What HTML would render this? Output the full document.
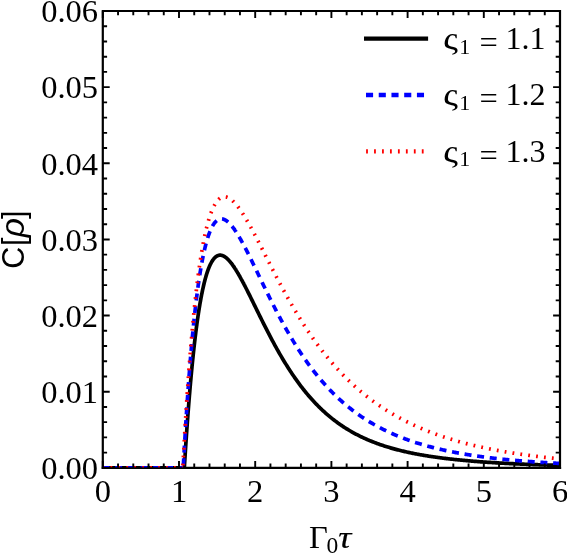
<!DOCTYPE html>
<html><head><meta charset="utf-8"><style>
html,body{margin:0;padding:0;background:#fff}
svg{display:block;will-change:transform}
text{font-family:"Liberation Serif",serif;font-size:32.5px;fill:#000}
</style></head><body>
<svg width="567" height="554" viewBox="0 0 567 554">
<rect width="567" height="554" fill="#fff"/>
<defs><clipPath id="c"><rect x="102.8" y="11.0" width="457.2" height="456.3"/></clipPath></defs>
<path d="M101.7 467.85 H561.1" stroke="#000" stroke-width="2.2" fill="none"/>
<g clip-path="url(#c)" fill="none" stroke-linejoin="round">
<path d="M102.8 467.85 H184.33" stroke="#000" stroke-width="3.7"/><path d="M184.33 467.85 L184.50 465.00 L184.68 462.17 L184.85 459.37 L185.03 456.61 L185.20 453.87 L185.37 451.15 L185.55 448.47 L185.72 445.81 L185.90 443.18 L186.07 440.57 L186.25 438.00 L186.42 435.45 L186.60 432.92 L186.77 430.42 L186.95 427.95 L187.12 425.51 L187.30 423.08 L187.47 420.69 L187.65 418.32 L187.82 415.97 L187.99 413.65 L188.17 411.35 L188.34 409.08 L188.52 406.83 L188.69 404.61 L188.87 402.41 L189.04 400.23 L189.22 398.08 L189.39 395.95 L189.57 393.84 L189.74 391.76 L189.92 389.69 L190.09 387.66 L190.27 385.64 L190.44 383.64 L190.61 381.67 L190.79 379.72 L190.96 377.79 L191.14 375.88 L191.31 373.99 L191.49 372.13 L191.66 370.28 L191.84 368.46 L192.01 366.65 L192.19 364.87 L192.36 363.11 L192.54 361.37 L192.71 359.64 L192.89 357.94 L193.06 356.26 L193.23 354.59 L193.41 352.95 L193.58 351.32 L193.76 349.71 L193.93 348.13 L194.11 346.56 L194.28 345.01 L194.46 343.47 L194.63 341.96 L194.81 340.46 L194.98 338.98 L195.16 337.52 L195.33 336.08 L195.51 334.66 L195.68 333.25 L195.85 331.86 L196.03 330.48 L196.20 329.13 L196.38 327.79 L196.55 326.47 L196.73 325.16 L196.90 323.87 L197.08 322.59 L197.25 321.34 L197.43 320.10 L197.60 318.87 L197.78 317.66 L197.95 316.46 L198.13 315.29 L198.30 314.12 L198.47 312.97 L198.65 311.84 L198.82 310.72 L199.00 309.62 L199.17 308.53 L199.35 307.45 L199.52 306.39 L199.70 305.35 L199.87 304.32 L200.05 303.30 L200.22 302.30 L200.40 301.31 L200.57 300.33 L200.75 299.37 L200.92 298.42 L201.09 297.49 L201.27 296.56 L201.44 295.66 L201.62 294.76 L201.79 293.88 L201.97 293.01 L202.14 292.15 L202.32 291.31 L202.49 290.48 L202.67 289.66 L202.84 288.85 L203.02 288.05 L203.19 287.27 L203.37 286.50 L203.54 285.74 L203.72 285.00 L203.89 284.26 L204.06 283.54 L204.24 282.82 L204.41 282.12 L204.59 281.43 L204.76 280.76 L204.94 280.09 L205.11 279.43 L205.29 278.79 L205.46 278.15 L205.64 277.53 L205.81 276.92 L205.99 276.31 L206.16 275.72 L206.34 275.14 L206.51 274.57 L206.68 274.01 L206.86 273.46 L207.03 272.92 L207.21 272.38 L207.38 271.86 L207.56 271.35 L207.73 270.85 L207.91 270.36 L208.08 269.87 L208.26 269.40 L208.43 268.94 L208.61 268.48 L208.78 268.03 L208.96 267.60 L209.13 267.17 L209.30 266.75 L209.48 266.34 L209.65 265.94 L209.83 265.55 L210.00 265.16 L210.18 264.79 L210.35 264.42 L210.53 264.06 L210.70 263.71 L210.88 263.37 L211.05 263.03 L211.23 262.71 L211.40 262.39 L211.58 262.08 L211.75 261.78 L211.92 261.48 L212.10 261.19 L212.27 260.91 L212.45 260.64 L212.62 260.38 L212.80 260.12 L212.97 259.87 L213.15 259.63 L213.32 259.39 L213.50 259.17 L213.67 258.94 L213.85 258.73 L214.02 258.52 L214.20 258.32 L214.37 258.13 L214.54 257.94 L214.72 257.76 L214.89 257.59 L215.07 257.42 L215.24 257.26 L215.42 257.11 L215.59 256.96 L215.77 256.82 L215.94 256.69 L216.12 256.56 L216.29 256.43 L216.47 256.32 L216.64 256.21 L216.82 256.10 L216.99 256.00 L217.16 255.91 L217.34 255.82 L217.51 255.74 L217.69 255.67 L217.86 255.60 L218.04 255.53 L218.21 255.47 L218.39 255.42 L218.56 255.37 L218.74 255.33 L218.91 255.29 L219.09 255.26 L219.26 255.23 L219.44 255.21 L219.61 255.19 L219.78 255.18 L219.96 255.17 L220.13 255.17 L220.31 255.17 L220.48 255.18 L220.66 255.19 L220.83 255.21 L221.01 255.23 L221.18 255.26 L221.36 255.29 L221.53 255.32 L221.71 255.36 L221.88 255.41 L222.06 255.46 L222.23 255.51 L222.40 255.57 L222.58 255.63 L222.75 255.70 L222.93 255.77 L223.10 255.84 L223.28 255.92 L223.45 256.00 L223.63 256.09 L223.80 256.18 L223.98 256.27 L224.15 256.37 L224.33 256.47 L224.50 256.58 L224.68 256.69 L224.85 256.80 L225.02 256.92 L225.20 257.04 L225.37 257.16 L225.55 257.29 L225.72 257.42 L225.90 257.55 L226.07 257.69 L226.25 257.83 L226.42 257.98 L226.60 258.13 L226.77 258.28 L226.95 258.43 L227.12 258.59 L227.30 258.75 L227.47 258.92 L227.64 259.08 L227.82 259.25 L227.99 259.43 L228.17 259.60 L228.34 259.78 L228.52 259.96 L228.69 260.15 L228.87 260.34 L229.04 260.53 L229.22 260.72 L229.39 260.92 L229.57 261.12 L229.74 261.32 L229.92 261.52 L230.09 261.73 L230.26 261.94 L230.44 262.15 L230.61 262.37 L230.79 262.58 L230.96 262.80 L231.14 263.02 L231.31 263.25 L231.49 263.48 L231.66 263.70 L231.84 263.94 L232.01 264.17 L232.19 264.41 L232.36 264.64 L232.54 264.89 L232.71 265.13 L232.89 265.37 L233.06 265.62 L233.23 265.87 L233.41 266.12 L233.58 266.37 L233.76 266.63 L233.93 266.89 L234.11 267.14 L234.28 267.41 L234.46 267.67 L234.63 267.93 L234.81 268.20 L234.98 268.47 L235.16 268.74 L235.33 269.01 L235.51 269.28 L235.68 269.56 L235.85 269.84 L236.03 270.12 L236.20 270.40 L236.38 270.68 L236.55 270.96 L236.73 271.25 L236.90 271.54 L237.08 271.82 L237.25 272.11 L237.43 272.41 L237.60 272.70 L237.78 272.99 L237.95 273.29 L238.13 273.59 L238.30 273.89 L238.47 274.19 L238.65 274.49 L238.82 274.79 L239.00 275.10 L239.17 275.40 L239.35 275.71 L239.52 276.02 L239.70 276.32 L239.87 276.63 L240.05 276.95 L240.22 277.26 L240.40 277.57 L240.57 277.89 L240.75 278.20 L240.92 278.52 L241.09 278.84 L241.27 279.16 L241.44 279.48 L241.62 279.80 L241.79 280.12 L241.97 280.45 L242.14 280.77 L242.32 281.10 L242.49 281.42 L242.67 281.75 L242.84 282.08 L243.02 282.41 L243.19 282.74 L243.37 283.07 L243.54 283.40 L243.71 283.73 L243.89 284.06 L244.06 284.40 L244.24 284.73 L244.41 285.07 L244.59 285.40 L244.76 285.74 L244.94 286.08 L245.11 286.41 L245.29 286.75 L246.19 288.51 L247.09 290.29 L247.99 292.07 L248.89 293.87 L249.80 295.68 L250.70 297.50 L251.60 299.33 L252.50 301.16 L253.40 302.99 L254.30 304.83 L255.21 306.66 L256.11 308.50 L257.01 310.34 L257.91 312.17 L258.81 314.00 L259.71 315.83 L260.62 317.65 L261.52 319.47 L262.42 321.28 L263.32 323.08 L264.22 324.87 L265.13 326.65 L266.03 328.43 L266.93 330.19 L267.83 331.94 L268.73 333.69 L269.63 335.42 L270.54 337.13 L271.44 338.84 L272.34 340.53 L273.24 342.21 L274.14 343.87 L275.04 345.52 L275.95 347.16 L276.85 348.78 L277.75 350.39 L278.65 351.98 L279.55 353.55 L280.46 355.11 L281.36 356.66 L282.26 358.19 L283.16 359.70 L284.06 361.19 L284.96 362.67 L285.87 364.14 L286.77 365.58 L287.67 367.02 L288.57 368.43 L289.47 369.83 L290.37 371.21 L291.28 372.58 L292.18 373.92 L293.08 375.26 L293.98 376.57 L294.88 377.87 L295.79 379.16 L296.69 380.42 L297.59 381.67 L298.49 382.91 L299.39 384.13 L300.29 385.33 L301.20 386.52 L302.10 387.69 L303.00 388.85 L303.90 389.99 L304.80 391.11 L305.70 392.22 L306.61 393.32 L307.51 394.40 L308.41 395.46 L309.31 396.51 L310.21 397.54 L311.11 398.56 L312.02 399.57 L312.92 400.56 L313.82 401.54 L314.72 402.50 L315.62 403.45 L316.53 404.39 L317.43 405.31 L318.33 406.22 L319.23 407.12 L320.13 408.00 L321.03 408.87 L321.94 409.73 L322.84 410.57 L323.74 411.40 L324.64 412.22 L325.54 413.03 L326.44 413.82 L327.35 414.61 L328.25 415.38 L329.15 416.14 L330.05 416.89 L330.95 417.62 L331.86 418.35 L332.76 419.07 L333.66 419.77 L334.56 420.46 L335.46 421.15 L336.36 421.82 L337.27 422.48 L338.17 423.13 L339.07 423.77 L339.97 424.41 L340.87 425.03 L341.77 425.64 L342.68 426.25 L343.58 426.84 L344.48 427.43 L345.38 428.00 L346.28 428.57 L347.19 429.13 L348.09 429.68 L348.99 430.22 L349.89 430.75 L350.79 431.28 L351.69 431.79 L352.60 432.30 L353.50 432.80 L354.40 433.29 L355.30 433.78 L356.20 434.26 L357.10 434.73 L358.01 435.19 L358.91 435.65 L359.81 436.09 L360.71 436.54 L361.61 436.97 L362.52 437.40 L363.42 437.82 L364.32 438.24 L365.22 438.64 L366.12 439.05 L367.02 439.44 L367.93 439.83 L368.83 440.22 L369.73 440.59 L370.63 440.97 L371.53 441.33 L372.43 441.69 L373.34 442.05 L374.24 442.40 L375.14 442.74 L376.04 443.08 L376.94 443.42 L377.84 443.75 L378.75 444.07 L379.65 444.39 L380.55 444.70 L381.45 445.01 L382.35 445.31 L383.26 445.61 L384.16 445.91 L385.06 446.20 L385.96 446.49 L386.86 446.77 L387.76 447.05 L388.67 447.32 L389.57 447.59 L390.47 447.85 L391.37 448.11 L392.27 448.37 L393.17 448.63 L394.08 448.88 L394.98 449.12 L395.88 449.36 L396.78 449.60 L397.68 449.84 L398.59 450.07 L399.49 450.30 L400.39 450.52 L401.29 450.74 L402.19 450.96 L403.09 451.17 L404.00 451.39 L404.90 451.59 L405.80 451.80 L406.70 452.00 L407.60 452.20 L408.50 452.40 L409.41 452.59 L410.31 452.78 L411.21 452.97 L412.11 453.16 L413.01 453.34 L413.92 453.52 L414.82 453.70 L415.72 453.87 L416.62 454.04 L417.52 454.21 L418.42 454.38 L419.33 454.55 L420.23 454.71 L421.13 454.87 L422.03 455.03 L422.93 455.18 L423.83 455.34 L424.74 455.49 L425.64 455.64 L426.54 455.78 L427.44 455.93 L428.34 456.07 L429.25 456.21 L430.15 456.35 L431.05 456.49 L431.95 456.63 L432.85 456.76 L433.75 456.89 L434.66 457.02 L435.56 457.15 L436.46 457.27 L437.36 457.40 L438.26 457.52 L439.16 457.64 L440.07 457.76 L440.97 457.88 L441.87 458.00 L442.77 458.11 L443.67 458.22 L444.58 458.34 L445.48 458.45 L446.38 458.55 L447.28 458.66 L448.18 458.77 L449.08 458.87 L449.99 458.97 L450.89 459.08 L451.79 459.18 L452.69 459.27 L453.59 459.37 L454.49 459.47 L455.40 459.56 L456.30 459.66 L457.20 459.75 L458.10 459.84 L459.00 459.93 L459.90 460.02 L460.81 460.11 L461.71 460.20 L462.61 460.28 L463.51 460.37 L464.41 460.45 L465.32 460.53 L466.22 460.61 L467.12 460.69 L468.02 460.77 L468.92 460.85 L469.82 460.93 L470.73 461.00 L471.63 461.08 L472.53 461.15 L473.43 461.23 L474.33 461.30 L475.23 461.37 L476.14 461.44 L477.04 461.51 L477.94 461.58 L478.84 461.65 L479.74 461.72 L480.65 461.78 L481.55 461.85 L482.45 461.91 L483.35 461.98 L484.25 462.04 L485.15 462.10 L486.06 462.17 L486.96 462.23 L487.86 462.29 L488.76 462.35 L489.66 462.41 L490.56 462.46 L491.47 462.52 L492.37 462.58 L493.27 462.63 L494.17 462.69 L495.07 462.74 L495.98 462.80 L496.88 462.85 L497.78 462.90 L498.68 462.96 L499.58 463.01 L500.48 463.06 L501.39 463.11 L502.29 463.16 L503.19 463.21 L504.09 463.26 L504.99 463.31 L505.89 463.35 L506.80 463.40 L507.70 463.45 L508.60 463.49 L509.50 463.54 L510.40 463.58 L511.31 463.63 L512.21 463.67 L513.11 463.71 L514.01 463.76 L514.91 463.80 L515.81 463.84 L516.72 463.88 L517.62 463.92 L518.52 463.96 L519.42 464.00 L520.32 464.04 L521.22 464.08 L522.13 464.12 L523.03 464.16 L523.93 464.20 L524.83 464.23 L525.73 464.27 L526.63 464.31 L527.54 464.34 L528.44 464.38 L529.34 464.41 L530.24 464.45 L531.14 464.48 L532.05 464.52 L532.95 464.55 L533.85 464.59 L534.75 464.62 L535.65 464.65 L536.55 464.68 L537.46 464.72 L538.36 464.75 L539.26 464.78 L540.16 464.81 L541.06 464.84 L541.96 464.87 L542.87 464.90 L543.77 464.93 L544.67 464.96 L545.57 464.99 L546.47 465.02 L547.38 465.05 L548.28 465.07 L549.18 465.10 L550.08 465.13 L550.98 465.16 L551.88 465.18 L552.79 465.21 L553.69 465.24 L554.59 465.26 L555.49 465.29 L556.39 465.31 L557.29 465.34 L558.20 465.36 L559.10 465.39 L560.00 465.41" stroke="#000" stroke-width="3.7"/>
<path d="M102.8 467.85 H183.24" stroke="#0000ff" stroke-width="3.7" stroke-dasharray="7 5.72" stroke-dashoffset="0.4"/><path d="M183.24 467.85 L183.41 464.63 L183.59 461.44 L183.76 458.29 L183.94 455.16 L184.11 452.07 L184.29 449.00 L184.46 445.97 L184.64 442.97 L184.81 440.00 L184.99 437.05 L185.16 434.14 L185.33 431.26 L185.51 428.40 L185.68 425.58 L185.86 422.78 L186.03 420.01 L186.21 417.27 L186.38 414.56 L186.56 411.88 L186.73 409.22 L186.91 406.59 L187.08 403.99 L187.26 401.41 L187.43 398.87 L187.61 396.34 L187.78 393.85 L187.95 391.38 L188.13 388.94 L188.30 386.52 L188.48 384.13 L188.65 381.76 L188.83 379.42 L189.00 377.10 L189.18 374.81 L189.35 372.54 L189.53 370.30 L189.70 368.08 L189.88 365.88 L190.05 363.71 L190.23 361.56 L190.40 359.43 L190.57 357.33 L190.75 355.25 L190.92 353.19 L191.10 351.16 L191.27 349.15 L191.45 347.16 L191.62 345.19 L191.80 343.24 L191.97 341.32 L192.15 339.42 L192.32 337.54 L192.50 335.68 L192.67 333.84 L192.85 332.02 L193.02 330.22 L193.19 328.44 L193.37 326.69 L193.54 324.95 L193.72 323.23 L193.89 321.53 L194.07 319.86 L194.24 318.20 L194.42 316.56 L194.59 314.94 L194.77 313.34 L194.94 311.76 L195.12 310.19 L195.29 308.65 L195.47 307.12 L195.64 305.61 L195.81 304.12 L195.99 302.65 L196.16 301.19 L196.34 299.76 L196.51 298.34 L196.69 296.94 L196.86 295.55 L197.04 294.18 L197.21 292.83 L197.39 291.50 L197.56 290.18 L197.74 288.88 L197.91 287.59 L198.09 286.32 L198.26 285.07 L198.43 283.83 L198.61 282.61 L198.78 281.41 L198.96 280.22 L199.13 279.04 L199.31 277.89 L199.48 276.74 L199.66 275.61 L199.83 274.50 L200.01 273.40 L200.18 272.31 L200.36 271.24 L200.53 270.19 L200.71 269.15 L200.88 268.12 L201.06 267.11 L201.23 266.11 L201.40 265.12 L201.58 264.15 L201.75 263.19 L201.93 262.25 L202.10 261.31 L202.28 260.40 L202.45 259.49 L202.63 258.60 L202.80 257.72 L202.98 256.85 L203.15 256.00 L203.33 255.16 L203.50 254.33 L203.68 253.51 L203.85 252.71 L204.02 251.92 L204.20 251.14 L204.37 250.37 L204.55 249.61 L204.72 248.87 L204.90 248.13 L205.07 247.41 L205.25 246.70 L205.42 246.00 L205.60 245.31 L205.77 244.64 L205.95 243.97 L206.12 243.32 L206.30 242.67 L206.47 242.04 L206.64 241.42 L206.82 240.80 L206.99 240.20 L207.17 239.61 L207.34 239.03 L207.52 238.46 L207.69 237.90 L207.87 237.35 L208.04 236.81 L208.22 236.28 L208.39 235.76 L208.57 235.24 L208.74 234.74 L208.92 234.25 L209.09 233.77 L209.26 233.29 L209.44 232.83 L209.61 232.37 L209.79 231.93 L209.96 231.49 L210.14 231.06 L210.31 230.64 L210.49 230.23 L210.66 229.83 L210.84 229.43 L211.01 229.05 L211.19 228.67 L211.36 228.30 L211.54 227.94 L211.71 227.59 L211.88 227.24 L212.06 226.91 L212.23 226.58 L212.41 226.26 L212.58 225.95 L212.76 225.64 L212.93 225.35 L213.11 225.06 L213.28 224.78 L213.46 224.50 L213.63 224.23 L213.81 223.98 L213.98 223.72 L214.16 223.48 L214.33 223.24 L214.50 223.01 L214.68 222.79 L214.85 222.57 L215.03 222.36 L215.20 222.16 L215.38 221.96 L215.55 221.77 L215.73 221.59 L215.90 221.41 L216.08 221.24 L216.25 221.08 L216.43 220.92 L216.60 220.77 L216.78 220.62 L216.95 220.48 L217.12 220.35 L217.30 220.23 L217.47 220.10 L217.65 219.99 L217.82 219.88 L218.00 219.78 L218.17 219.68 L218.35 219.59 L218.52 219.51 L218.70 219.43 L218.87 219.35 L219.05 219.28 L219.22 219.22 L219.40 219.16 L219.57 219.11 L219.74 219.06 L219.92 219.02 L220.09 218.98 L220.27 218.95 L220.44 218.92 L220.62 218.90 L220.79 218.89 L220.97 218.87 L221.14 218.87 L221.32 218.87 L221.49 218.87 L221.67 218.88 L221.84 218.89 L222.02 218.91 L222.19 218.93 L222.36 218.95 L222.54 218.98 L222.71 219.02 L222.89 219.06 L223.06 219.10 L223.24 219.15 L223.41 219.20 L223.59 219.26 L223.76 219.32 L223.94 219.39 L224.11 219.46 L224.29 219.53 L224.46 219.61 L224.64 219.69 L224.81 219.77 L224.98 219.86 L225.16 219.96 L225.33 220.05 L225.51 220.15 L225.68 220.26 L225.86 220.37 L226.03 220.48 L226.21 220.59 L226.38 220.71 L226.56 220.83 L226.73 220.96 L226.91 221.09 L227.08 221.22 L227.26 221.36 L227.43 221.50 L227.60 221.64 L227.78 221.79 L227.95 221.94 L228.13 222.09 L228.30 222.25 L228.48 222.40 L228.65 222.57 L228.83 222.73 L229.00 222.90 L229.18 223.07 L229.35 223.25 L229.53 223.42 L229.70 223.60 L229.88 223.79 L230.05 223.97 L230.22 224.16 L230.40 224.35 L230.57 224.55 L230.75 224.74 L230.92 224.94 L231.10 225.15 L231.27 225.35 L231.45 225.56 L231.62 225.77 L231.80 225.98 L231.97 226.20 L232.15 226.41 L232.32 226.63 L232.50 226.86 L232.67 227.08 L232.85 227.31 L233.02 227.54 L233.19 227.77 L233.37 228.00 L233.54 228.24 L233.72 228.48 L233.89 228.72 L234.07 228.96 L234.24 229.21 L234.42 229.45 L234.59 229.70 L234.77 229.95 L234.94 230.21 L235.12 230.46 L235.29 230.72 L235.47 230.98 L235.64 231.24 L235.81 231.50 L235.99 231.77 L236.16 232.03 L236.34 232.30 L236.51 232.57 L236.69 232.85 L236.86 233.12 L237.04 233.40 L237.21 233.67 L237.39 233.95 L237.56 234.23 L237.74 234.52 L237.91 234.80 L238.09 235.09 L238.26 235.37 L238.43 235.66 L238.61 235.95 L238.78 236.24 L238.96 236.54 L239.13 236.83 L239.31 237.13 L239.48 237.43 L239.66 237.73 L239.83 238.03 L240.01 238.33 L240.18 238.63 L240.36 238.94 L240.53 239.24 L240.71 239.55 L240.88 239.86 L241.05 240.17 L241.23 240.48 L241.40 240.79 L241.58 241.10 L241.75 241.42 L241.93 241.74 L242.10 242.05 L242.28 242.37 L242.45 242.69 L242.63 243.01 L242.80 243.33 L242.98 243.65 L243.15 243.98 L243.33 244.30 L243.50 244.63 L243.67 244.95 L243.85 245.28 L244.02 245.61 L244.20 245.94 L245.10 247.66 L246.01 249.40 L246.91 251.17 L247.82 252.95 L248.72 254.75 L249.63 256.56 L250.53 258.39 L251.44 260.23 L252.34 262.08 L253.25 263.94 L254.15 265.80 L255.06 267.67 L255.96 269.55 L256.87 271.43 L257.77 273.31 L258.68 275.19 L259.58 277.07 L260.49 278.95 L261.39 280.83 L262.30 282.71 L263.20 284.58 L264.11 286.45 L265.01 288.31 L265.92 290.17 L266.82 292.01 L267.73 293.86 L268.63 295.69 L269.54 297.52 L270.44 299.34 L271.34 301.14 L272.25 302.94 L273.15 304.73 L274.06 306.51 L274.96 308.27 L275.87 310.03 L276.77 311.77 L277.68 313.50 L278.58 315.22 L279.49 316.93 L280.39 318.62 L281.30 320.30 L282.20 321.96 L283.11 323.62 L284.01 325.26 L284.92 326.88 L285.82 328.49 L286.73 330.09 L287.63 331.68 L288.54 333.24 L289.44 334.80 L290.35 336.34 L291.25 337.87 L292.16 339.38 L293.06 340.87 L293.97 342.36 L294.87 343.82 L295.78 345.28 L296.68 346.72 L297.59 348.14 L298.49 349.55 L299.40 350.95 L300.30 352.33 L301.21 353.69 L302.11 355.04 L303.02 356.38 L303.92 357.70 L304.83 359.01 L305.73 360.31 L306.63 361.59 L307.54 362.85 L308.44 364.10 L309.35 365.34 L310.25 366.57 L311.16 367.78 L312.06 368.97 L312.97 370.16 L313.87 371.33 L314.78 372.48 L315.68 373.63 L316.59 374.76 L317.49 375.87 L318.40 376.98 L319.30 378.07 L320.21 379.15 L321.11 380.21 L322.02 381.27 L322.92 382.31 L323.83 383.34 L324.73 384.35 L325.64 385.36 L326.54 386.35 L327.45 387.33 L328.35 388.30 L329.26 389.25 L330.16 390.20 L331.07 391.13 L331.97 392.06 L332.88 392.97 L333.78 393.87 L334.69 394.76 L335.59 395.64 L336.50 396.51 L337.40 397.36 L338.31 398.21 L339.21 399.05 L340.12 399.87 L341.02 400.69 L341.93 401.50 L342.83 402.29 L343.73 403.08 L344.64 403.86 L345.54 404.62 L346.45 405.38 L347.35 406.13 L348.26 406.87 L349.16 407.60 L350.07 408.32 L350.97 409.03 L351.88 409.74 L352.78 410.43 L353.69 411.12 L354.59 411.80 L355.50 412.46 L356.40 413.13 L357.31 413.78 L358.21 414.42 L359.12 415.06 L360.02 415.69 L360.93 416.31 L361.83 416.92 L362.74 417.53 L363.64 418.13 L364.55 418.72 L365.45 419.30 L366.36 419.88 L367.26 420.45 L368.17 421.01 L369.07 421.56 L369.98 422.11 L370.88 422.65 L371.79 423.19 L372.69 423.71 L373.60 424.24 L374.50 424.75 L375.41 425.26 L376.31 425.76 L377.22 426.26 L378.12 426.75 L379.02 427.23 L379.93 427.71 L380.83 428.18 L381.74 428.65 L382.64 429.11 L383.55 429.56 L384.45 430.01 L385.36 430.45 L386.26 430.89 L387.17 431.32 L388.07 431.75 L388.98 432.17 L389.88 432.59 L390.79 433.00 L391.69 433.41 L392.60 433.81 L393.50 434.21 L394.41 434.60 L395.31 434.99 L396.22 435.37 L397.12 435.74 L398.03 436.12 L398.93 436.49 L399.84 436.85 L400.74 437.21 L401.65 437.56 L402.55 437.91 L403.46 438.26 L404.36 438.60 L405.27 438.94 L406.17 439.27 L407.08 439.60 L407.98 439.93 L408.89 440.25 L409.79 440.57 L410.70 440.88 L411.60 441.19 L412.51 441.50 L413.41 441.80 L414.32 442.10 L415.22 442.39 L416.12 442.69 L417.03 442.97 L417.93 443.26 L418.84 443.54 L419.74 443.82 L420.65 444.09 L421.55 444.36 L422.46 444.63 L423.36 444.89 L424.27 445.16 L425.17 445.41 L426.08 445.67 L426.98 445.92 L427.89 446.17 L428.79 446.42 L429.70 446.66 L430.60 446.90 L431.51 447.14 L432.41 447.37 L433.32 447.60 L434.22 447.83 L435.13 448.06 L436.03 448.28 L436.94 448.50 L437.84 448.72 L438.75 448.93 L439.65 449.15 L440.56 449.36 L441.46 449.56 L442.37 449.77 L443.27 449.97 L444.18 450.17 L445.08 450.37 L445.99 450.57 L446.89 450.76 L447.80 450.95 L448.70 451.14 L449.61 451.33 L450.51 451.51 L451.41 451.69 L452.32 451.87 L453.22 452.05 L454.13 452.23 L455.03 452.40 L455.94 452.57 L456.84 452.74 L457.75 452.91 L458.65 453.08 L459.56 453.24 L460.46 453.40 L461.37 453.56 L462.27 453.72 L463.18 453.88 L464.08 454.03 L464.99 454.18 L465.89 454.33 L466.80 454.48 L467.70 454.63 L468.61 454.78 L469.51 454.92 L470.42 455.06 L471.32 455.20 L472.23 455.34 L473.13 455.48 L474.04 455.62 L474.94 455.75 L475.85 455.88 L476.75 456.01 L477.66 456.14 L478.56 456.27 L479.47 456.40 L480.37 456.52 L481.28 456.65 L482.18 456.77 L483.09 456.89 L483.99 457.01 L484.90 457.13 L485.80 457.24 L486.71 457.36 L487.61 457.47 L488.51 457.58 L489.42 457.70 L490.32 457.81 L491.23 457.91 L492.13 458.02 L493.04 458.13 L493.94 458.23 L494.85 458.34 L495.75 458.44 L496.66 458.54 L497.56 458.64 L498.47 458.74 L499.37 458.84 L500.28 458.94 L501.18 459.03 L502.09 459.13 L502.99 459.22 L503.90 459.31 L504.80 459.41 L505.71 459.50 L506.61 459.59 L507.52 459.67 L508.42 459.76 L509.33 459.85 L510.23 459.93 L511.14 460.02 L512.04 460.10 L512.95 460.19 L513.85 460.27 L514.76 460.35 L515.66 460.43 L516.57 460.51 L517.47 460.58 L518.38 460.66 L519.28 460.74 L520.19 460.81 L521.09 460.89 L522.00 460.96 L522.90 461.04 L523.80 461.11 L524.71 461.18 L525.61 461.25 L526.52 461.32 L527.42 461.39 L528.33 461.46 L529.23 461.52 L530.14 461.59 L531.04 461.66 L531.95 461.72 L532.85 461.79 L533.76 461.85 L534.66 461.91 L535.57 461.98 L536.47 462.04 L537.38 462.10 L538.28 462.16 L539.19 462.22 L540.09 462.28 L541.00 462.34 L541.90 462.39 L542.81 462.45 L543.71 462.51 L544.62 462.56 L545.52 462.62 L546.43 462.67 L547.33 462.73 L548.24 462.78 L549.14 462.83 L550.05 462.88 L550.95 462.94 L551.86 462.99 L552.76 463.04 L553.67 463.09 L554.57 463.14 L555.48 463.19 L556.38 463.23 L557.29 463.28 L558.19 463.33 L559.10 463.38 L560.00 463.42" stroke="#0000ff" stroke-width="3.7" stroke-dasharray="7 5.72" stroke-dashoffset="10.099"/>
<path d="M102.8 467.85 H182.77" stroke="#ff0000" stroke-width="3.7" stroke-dasharray="1.8 6.144" stroke-dashoffset="0.3"/><path d="M182.77 467.85 L182.95 464.61 L183.12 461.39 L183.30 458.20 L183.47 455.05 L183.65 451.92 L183.82 448.83 L184.00 445.76 L184.17 442.72 L184.35 439.71 L184.52 436.72 L184.70 433.77 L184.87 430.84 L185.05 427.94 L185.22 425.07 L185.39 422.23 L185.57 419.41 L185.74 416.62 L185.92 413.85 L186.09 411.12 L186.27 408.41 L186.44 405.72 L186.62 403.06 L186.79 400.43 L186.97 397.82 L187.14 395.23 L187.32 392.67 L187.49 390.14 L187.67 387.63 L187.84 385.15 L188.01 382.69 L188.19 380.25 L188.36 377.84 L188.54 375.45 L188.71 373.08 L188.89 370.74 L189.06 368.42 L189.24 366.13 L189.41 363.86 L189.59 361.61 L189.76 359.38 L189.94 357.17 L190.11 354.99 L190.29 352.83 L190.46 350.69 L190.64 348.57 L190.81 346.48 L190.98 344.40 L191.16 342.35 L191.33 340.31 L191.51 338.30 L191.68 336.31 L191.86 334.34 L192.03 332.39 L192.21 330.46 L192.38 328.55 L192.56 326.66 L192.73 324.79 L192.91 322.94 L193.08 321.11 L193.26 319.29 L193.43 317.50 L193.60 315.73 L193.78 313.97 L193.95 312.23 L194.13 310.52 L194.30 308.82 L194.48 307.13 L194.65 305.47 L194.83 303.82 L195.00 302.20 L195.18 300.59 L195.35 298.99 L195.53 297.42 L195.70 295.86 L195.88 294.32 L196.05 292.80 L196.22 291.29 L196.40 289.80 L196.57 288.33 L196.75 286.87 L196.92 285.43 L197.10 284.00 L197.27 282.60 L197.45 281.20 L197.62 279.83 L197.80 278.47 L197.97 277.12 L198.15 275.79 L198.32 274.48 L198.50 273.18 L198.67 271.89 L198.84 270.62 L199.02 269.37 L199.19 268.13 L199.37 266.90 L199.54 265.69 L199.72 264.50 L199.89 263.32 L200.07 262.15 L200.24 260.99 L200.42 259.86 L200.59 258.73 L200.77 257.62 L200.94 256.52 L201.12 255.43 L201.29 254.36 L201.46 253.30 L201.64 252.26 L201.81 251.23 L201.99 250.21 L202.16 249.20 L202.34 248.21 L202.51 247.23 L202.69 246.26 L202.86 245.30 L203.04 244.36 L203.21 243.43 L203.39 242.51 L203.56 241.60 L203.74 240.71 L203.91 239.83 L204.08 238.95 L204.26 238.09 L204.43 237.25 L204.61 236.41 L204.78 235.58 L204.96 234.77 L205.13 233.97 L205.31 233.18 L205.48 232.40 L205.66 231.63 L205.83 230.87 L206.01 230.12 L206.18 229.38 L206.36 228.65 L206.53 227.94 L206.70 227.23 L206.88 226.54 L207.05 225.85 L207.23 225.18 L207.40 224.51 L207.58 223.86 L207.75 223.21 L207.93 222.58 L208.10 221.95 L208.28 221.33 L208.45 220.73 L208.63 220.13 L208.80 219.54 L208.98 218.96 L209.15 218.40 L209.32 217.84 L209.50 217.29 L209.67 216.74 L209.85 216.21 L210.02 215.69 L210.20 215.17 L210.37 214.67 L210.55 214.17 L210.72 213.68 L210.90 213.20 L211.07 212.73 L211.25 212.26 L211.42 211.81 L211.60 211.36 L211.77 210.92 L211.94 210.49 L212.12 210.07 L212.29 209.65 L212.47 209.25 L212.64 208.85 L212.82 208.46 L212.99 208.07 L213.17 207.70 L213.34 207.33 L213.52 206.97 L213.69 206.61 L213.87 206.27 L214.04 205.93 L214.22 205.60 L214.39 205.27 L214.56 204.95 L214.74 204.64 L214.91 204.34 L215.09 204.04 L215.26 203.75 L215.44 203.47 L215.61 203.19 L215.79 202.93 L215.96 202.66 L216.14 202.41 L216.31 202.16 L216.49 201.91 L216.66 201.68 L216.84 201.45 L217.01 201.22 L217.18 201.00 L217.36 200.79 L217.53 200.59 L217.71 200.39 L217.88 200.19 L218.06 200.01 L218.23 199.82 L218.41 199.65 L218.58 199.48 L218.76 199.31 L218.93 199.16 L219.11 199.00 L219.28 198.86 L219.46 198.71 L219.63 198.58 L219.80 198.45 L219.98 198.32 L220.15 198.20 L220.33 198.09 L220.50 197.98 L220.68 197.87 L220.85 197.77 L221.03 197.68 L221.20 197.59 L221.38 197.51 L221.55 197.43 L221.73 197.36 L221.90 197.29 L222.08 197.22 L222.25 197.16 L222.43 197.11 L222.60 197.06 L222.77 197.01 L222.95 196.97 L223.12 196.94 L223.30 196.91 L223.47 196.88 L223.65 196.86 L223.82 196.84 L224.00 196.82 L224.17 196.81 L224.35 196.81 L224.52 196.81 L224.70 196.81 L224.87 196.82 L225.05 196.83 L225.22 196.85 L225.39 196.87 L225.57 196.89 L225.74 196.92 L225.92 196.95 L226.09 196.99 L226.27 197.03 L226.44 197.07 L226.62 197.12 L226.79 197.17 L226.97 197.22 L227.14 197.28 L227.32 197.34 L227.49 197.41 L227.67 197.48 L227.84 197.55 L228.01 197.62 L228.19 197.70 L228.36 197.79 L228.54 197.87 L228.71 197.96 L228.89 198.06 L229.06 198.15 L229.24 198.25 L229.41 198.36 L229.59 198.46 L229.76 198.57 L229.94 198.68 L230.11 198.80 L230.29 198.92 L230.46 199.04 L230.63 199.17 L230.81 199.29 L230.98 199.42 L231.16 199.56 L231.33 199.69 L231.51 199.83 L231.68 199.98 L231.86 200.12 L232.03 200.27 L232.21 200.42 L232.38 200.57 L232.56 200.73 L232.73 200.89 L232.91 201.05 L233.08 201.21 L233.25 201.38 L233.43 201.55 L233.60 201.72 L233.78 201.89 L233.95 202.07 L234.13 202.25 L234.30 202.43 L234.48 202.61 L234.65 202.80 L234.83 202.99 L235.00 203.18 L235.18 203.37 L235.35 203.57 L235.53 203.77 L235.70 203.97 L235.87 204.17 L236.05 204.37 L236.22 204.58 L236.40 204.79 L236.57 205.00 L236.75 205.21 L236.92 205.43 L237.10 205.64 L237.27 205.86 L237.45 206.08 L237.62 206.31 L237.80 206.53 L237.97 206.76 L238.15 206.99 L238.32 207.22 L238.49 207.45 L238.67 207.68 L238.84 207.92 L239.02 208.16 L239.19 208.40 L239.37 208.64 L239.54 208.88 L239.72 209.12 L239.89 209.37 L240.07 209.62 L240.24 209.87 L240.42 210.12 L240.59 210.37 L240.77 210.63 L240.94 210.88 L241.11 211.14 L241.29 211.40 L241.46 211.66 L241.64 211.92 L241.81 212.19 L241.99 212.45 L242.16 212.72 L242.34 212.99 L242.51 213.26 L242.69 213.53 L242.86 213.80 L243.04 214.07 L243.21 214.35 L243.39 214.62 L243.56 214.90 L243.73 215.18 L244.64 216.65 L245.55 218.14 L246.45 219.67 L247.36 221.23 L248.27 222.81 L249.17 224.41 L250.08 226.04 L250.98 227.69 L251.89 229.35 L252.80 231.03 L253.70 232.73 L254.61 234.44 L255.52 236.16 L256.42 237.89 L257.33 239.64 L258.23 241.39 L259.14 243.15 L260.05 244.91 L260.95 246.68 L261.86 248.46 L262.77 250.23 L263.67 252.01 L264.58 253.79 L265.48 255.58 L266.39 257.36 L267.30 259.14 L268.20 260.92 L269.11 262.69 L270.01 264.46 L270.92 266.23 L271.83 268.00 L272.73 269.76 L273.64 271.51 L274.55 273.26 L275.45 275.00 L276.36 276.74 L277.26 278.47 L278.17 280.19 L279.08 281.90 L279.98 283.61 L280.89 285.30 L281.80 286.99 L282.70 288.67 L283.61 290.34 L284.51 291.99 L285.42 293.64 L286.33 295.28 L287.23 296.91 L288.14 298.53 L289.05 300.13 L289.95 301.73 L290.86 303.31 L291.76 304.89 L292.67 306.45 L293.58 308.00 L294.48 309.54 L295.39 311.07 L296.29 312.58 L297.20 314.09 L298.11 315.58 L299.01 317.06 L299.92 318.53 L300.83 319.98 L301.73 321.43 L302.64 322.86 L303.54 324.28 L304.45 325.69 L305.36 327.08 L306.26 328.47 L307.17 329.84 L308.08 331.20 L308.98 332.55 L309.89 333.88 L310.79 335.21 L311.70 336.52 L312.61 337.82 L313.51 339.11 L314.42 340.39 L315.32 341.65 L316.23 342.90 L317.14 344.14 L318.04 345.37 L318.95 346.59 L319.86 347.80 L320.76 348.99 L321.67 350.18 L322.57 351.35 L323.48 352.51 L324.39 353.66 L325.29 354.80 L326.20 355.93 L327.11 357.04 L328.01 358.15 L328.92 359.25 L329.82 360.33 L330.73 361.40 L331.64 362.47 L332.54 363.52 L333.45 364.56 L334.36 365.59 L335.26 366.61 L336.17 367.63 L337.07 368.63 L337.98 369.62 L338.89 370.60 L339.79 371.57 L340.70 372.53 L341.60 373.48 L342.51 374.43 L343.42 375.36 L344.32 376.28 L345.23 377.20 L346.14 378.10 L347.04 379.00 L347.95 379.89 L348.85 380.76 L349.76 381.63 L350.67 382.49 L351.57 383.34 L352.48 384.19 L353.39 385.02 L354.29 385.85 L355.20 386.66 L356.10 387.47 L357.01 388.27 L357.92 389.06 L358.82 389.85 L359.73 390.62 L360.64 391.39 L361.54 392.15 L362.45 392.91 L363.35 393.65 L364.26 394.39 L365.17 395.12 L366.07 395.84 L366.98 396.56 L367.88 397.26 L368.79 397.96 L369.70 398.66 L370.60 399.34 L371.51 400.02 L372.42 400.69 L373.32 401.36 L374.23 402.02 L375.13 402.67 L376.04 403.32 L376.95 403.95 L377.85 404.59 L378.76 405.21 L379.67 405.83 L380.57 406.44 L381.48 407.05 L382.38 407.65 L383.29 408.24 L384.20 408.83 L385.10 409.42 L386.01 409.99 L386.92 410.56 L387.82 411.13 L388.73 411.69 L389.63 412.24 L390.54 412.79 L391.45 413.33 L392.35 413.86 L393.26 414.40 L394.16 414.92 L395.07 415.44 L395.98 415.96 L396.88 416.47 L397.79 416.97 L398.70 417.47 L399.60 417.97 L400.51 418.46 L401.41 418.94 L402.32 419.42 L403.23 419.89 L404.13 420.36 L405.04 420.83 L405.95 421.29 L406.85 421.75 L407.76 422.20 L408.66 422.64 L409.57 423.09 L410.48 423.52 L411.38 423.96 L412.29 424.39 L413.19 424.81 L414.10 425.23 L415.01 425.65 L415.91 426.06 L416.82 426.47 L417.73 426.87 L418.63 427.27 L419.54 427.67 L420.44 428.06 L421.35 428.45 L422.26 428.83 L423.16 429.21 L424.07 429.59 L424.98 429.96 L425.88 430.33 L426.79 430.69 L427.69 431.06 L428.60 431.41 L429.51 431.77 L430.41 432.12 L431.32 432.47 L432.23 432.81 L433.13 433.15 L434.04 433.49 L434.94 433.82 L435.85 434.15 L436.76 434.48 L437.66 434.80 L438.57 435.12 L439.47 435.44 L440.38 435.75 L441.29 436.07 L442.19 436.37 L443.10 436.68 L444.01 436.98 L444.91 437.28 L445.82 437.58 L446.72 437.87 L447.63 438.16 L448.54 438.45 L449.44 438.73 L450.35 439.01 L451.26 439.29 L452.16 439.57 L453.07 439.84 L453.97 440.11 L454.88 440.38 L455.79 440.65 L456.69 440.91 L457.60 441.17 L458.51 441.43 L459.41 441.68 L460.32 441.94 L461.22 442.19 L462.13 442.43 L463.04 442.68 L463.94 442.92 L464.85 443.16 L465.75 443.40 L466.66 443.64 L467.57 443.87 L468.47 444.10 L469.38 444.33 L470.29 444.56 L471.19 444.78 L472.10 445.00 L473.00 445.22 L473.91 445.44 L474.82 445.66 L475.72 445.87 L476.63 446.08 L477.54 446.29 L478.44 446.50 L479.35 446.71 L480.25 446.91 L481.16 447.11 L482.07 447.31 L482.97 447.51 L483.88 447.70 L484.79 447.90 L485.69 448.09 L486.60 448.28 L487.50 448.47 L488.41 448.65 L489.32 448.84 L490.22 449.02 L491.13 449.20 L492.03 449.38 L492.94 449.56 L493.85 449.74 L494.75 449.91 L495.66 450.08 L496.57 450.25 L497.47 450.42 L498.38 450.59 L499.28 450.75 L500.19 450.92 L501.10 451.08 L502.00 451.24 L502.91 451.40 L503.82 451.56 L504.72 451.72 L505.63 451.87 L506.53 452.02 L507.44 452.18 L508.35 452.33 L509.25 452.48 L510.16 452.62 L511.06 452.77 L511.97 452.91 L512.88 453.06 L513.78 453.20 L514.69 453.34 L515.60 453.48 L516.50 453.62 L517.41 453.75 L518.31 453.89 L519.22 454.02 L520.13 454.15 L521.03 454.29 L521.94 454.42 L522.85 454.54 L523.75 454.67 L524.66 454.80 L525.56 454.92 L526.47 455.05 L527.38 455.17 L528.28 455.29 L529.19 455.41 L530.10 455.53 L531.00 455.65 L531.91 455.77 L532.81 455.88 L533.72 456.00 L534.63 456.11 L535.53 456.22 L536.44 456.33 L537.34 456.44 L538.25 456.55 L539.16 456.66 L540.06 456.77 L540.97 456.87 L541.88 456.98 L542.78 457.08 L543.69 457.19 L544.59 457.29 L545.50 457.39 L546.41 457.49 L547.31 457.59 L548.22 457.69 L549.13 457.78 L550.03 457.88 L550.94 457.98 L551.84 458.07 L552.75 458.16 L553.66 458.26 L554.56 458.35 L555.47 458.44 L556.38 458.53 L557.28 458.62 L558.19 458.71 L559.09 458.79 L560.00 458.88" stroke="#ff0000" stroke-width="3.7" stroke-dasharray="1.8 6.144" stroke-dashoffset="5.492"/>
</g>
<path d="M102.8 468.95000000000005 V11.0 H560.0 V468.95000000000005" fill="none" stroke="#000" stroke-width="2.2"/>
<path d="M102.80 467.85 v-6.9 M102.80 11.0 v6.9 M102.8 467.85 h6.9 M560.0 467.85 h-6.9 M118.04 467.85 v-4.3 M118.04 11.0 v4.3 M102.8 452.62 h4.3 M560.0 452.62 h-4.3 M133.28 467.85 v-4.3 M133.28 11.0 v4.3 M102.8 437.39 h4.3 M560.0 437.39 h-4.3 M148.52 467.85 v-4.3 M148.52 11.0 v4.3 M102.8 422.17 h4.3 M560.0 422.17 h-4.3 M163.76 467.85 v-4.3 M163.76 11.0 v4.3 M102.8 406.94 h4.3 M560.0 406.94 h-4.3 M179.00 467.85 v-6.9 M179.00 11.0 v6.9 M102.8 391.71 h6.9 M560.0 391.71 h-6.9 M194.24 467.85 v-4.3 M194.24 11.0 v4.3 M102.8 376.48 h4.3 M560.0 376.48 h-4.3 M209.48 467.85 v-4.3 M209.48 11.0 v4.3 M102.8 361.25 h4.3 M560.0 361.25 h-4.3 M224.72 467.85 v-4.3 M224.72 11.0 v4.3 M102.8 346.02 h4.3 M560.0 346.02 h-4.3 M239.96 467.85 v-4.3 M239.96 11.0 v4.3 M102.8 330.80 h4.3 M560.0 330.80 h-4.3 M255.20 467.85 v-6.9 M255.20 11.0 v6.9 M102.8 315.57 h6.9 M560.0 315.57 h-6.9 M270.44 467.85 v-4.3 M270.44 11.0 v4.3 M102.8 300.34 h4.3 M560.0 300.34 h-4.3 M285.68 467.85 v-4.3 M285.68 11.0 v4.3 M102.8 285.11 h4.3 M560.0 285.11 h-4.3 M300.92 467.85 v-4.3 M300.92 11.0 v4.3 M102.8 269.88 h4.3 M560.0 269.88 h-4.3 M316.16 467.85 v-4.3 M316.16 11.0 v4.3 M102.8 254.65 h4.3 M560.0 254.65 h-4.3 M331.40 467.85 v-6.9 M331.40 11.0 v6.9 M102.8 239.43 h6.9 M560.0 239.43 h-6.9 M346.64 467.85 v-4.3 M346.64 11.0 v4.3 M102.8 224.20 h4.3 M560.0 224.20 h-4.3 M361.88 467.85 v-4.3 M361.88 11.0 v4.3 M102.8 208.97 h4.3 M560.0 208.97 h-4.3 M377.12 467.85 v-4.3 M377.12 11.0 v4.3 M102.8 193.74 h4.3 M560.0 193.74 h-4.3 M392.36 467.85 v-4.3 M392.36 11.0 v4.3 M102.8 178.51 h4.3 M560.0 178.51 h-4.3 M407.60 467.85 v-6.9 M407.60 11.0 v6.9 M102.8 163.28 h6.9 M560.0 163.28 h-6.9 M422.84 467.85 v-4.3 M422.84 11.0 v4.3 M102.8 148.06 h4.3 M560.0 148.06 h-4.3 M438.08 467.85 v-4.3 M438.08 11.0 v4.3 M102.8 132.83 h4.3 M560.0 132.83 h-4.3 M453.32 467.85 v-4.3 M453.32 11.0 v4.3 M102.8 117.60 h4.3 M560.0 117.60 h-4.3 M468.56 467.85 v-4.3 M468.56 11.0 v4.3 M102.8 102.37 h4.3 M560.0 102.37 h-4.3 M483.80 467.85 v-6.9 M483.80 11.0 v6.9 M102.8 87.14 h6.9 M560.0 87.14 h-6.9 M499.04 467.85 v-4.3 M499.04 11.0 v4.3 M102.8 71.91 h4.3 M560.0 71.91 h-4.3 M514.28 467.85 v-4.3 M514.28 11.0 v4.3 M102.8 56.69 h4.3 M560.0 56.69 h-4.3 M529.52 467.85 v-4.3 M529.52 11.0 v4.3 M102.8 41.46 h4.3 M560.0 41.46 h-4.3 M544.76 467.85 v-4.3 M544.76 11.0 v4.3 M102.8 26.23 h4.3 M560.0 26.23 h-4.3 M560.00 467.85 v-6.9 M560.00 11.0 v6.9 M102.8 11.00 h6.9 M560.0 11.00 h-6.9" stroke="#000" stroke-width="1.9" fill="none"/>
<g><text x="102.80" y="501.7" text-anchor="middle">0</text><text x="179.00" y="501.7" text-anchor="middle">1</text><text x="255.20" y="501.7" text-anchor="middle">2</text><text x="331.40" y="501.7" text-anchor="middle">3</text><text x="407.60" y="501.7" text-anchor="middle">4</text><text x="483.80" y="501.7" text-anchor="middle">5</text><text x="560.00" y="501.7" text-anchor="middle">6</text></g>
<g><text x="98.0" y="479.15" text-anchor="end">0.00</text><text x="98.0" y="403.01" text-anchor="end">0.01</text><text x="98.0" y="326.87" text-anchor="end">0.02</text><text x="98.0" y="250.72" text-anchor="end">0.03</text><text x="98.0" y="174.58" text-anchor="end">0.04</text><text x="98.0" y="98.44" text-anchor="end">0.05</text><text x="98.0" y="22.30" text-anchor="end">0.06</text></g>
<path d="M364 38.6 H428.1" stroke="#000" stroke-width="4.3"/>
<path d="M366 95 H428" stroke="#0000ff" stroke-width="4.3" stroke-dasharray="7.1 5.63"/>
<path d="M366.1 151.3 H428" stroke="#ff0000" stroke-width="4.3" stroke-dasharray="1.8 6.16"/>
<text transform="translate(443.3,48.9) scale(1.14,0.95)">ς</text><text x="459.2" y="53.65" style="font-size:22px">1</text><text x="479.4" y="53.0">=</text><text x="505.6" y="48.9" style="font-size:32px">1.1</text>
<text transform="translate(443.3,105.3) scale(1.14,0.95)">ς</text><text x="459.2" y="110.05" style="font-size:22px">1</text><text x="479.4" y="109.39999999999999">=</text><text x="505.6" y="105.3" style="font-size:32px">1.2</text>
<text transform="translate(443.3,161.7) scale(1.14,0.95)">ς</text><text x="459.2" y="166.45" style="font-size:22px">1</text><text x="479.4" y="165.79999999999998">=</text><text x="505.6" y="161.7" style="font-size:32px">1.3</text>
<text x="309" y="548.2">Γ</text><text x="326.6" y="553.3" style="font-size:23.5px">0</text><text transform="translate(338.3,548.2) scale(1.12,0.96)" font-style="italic" stroke="#000" stroke-width="0.2">τ</text>
<g transform="translate(24,0) rotate(-90)" style="font-family:'Liberation Sans',sans-serif;font-size:30.5px"><text x="-268.7" y="0" style="font:inherit">C</text><text x="-246" y="0" style="font:inherit">[</text><text x="-237.5" y="0" style="font:italic 34px 'Liberation Sans'">ρ</text><text x="-219.1" y="0" style="font:inherit">]</text></g>
</svg>
</body></html>
